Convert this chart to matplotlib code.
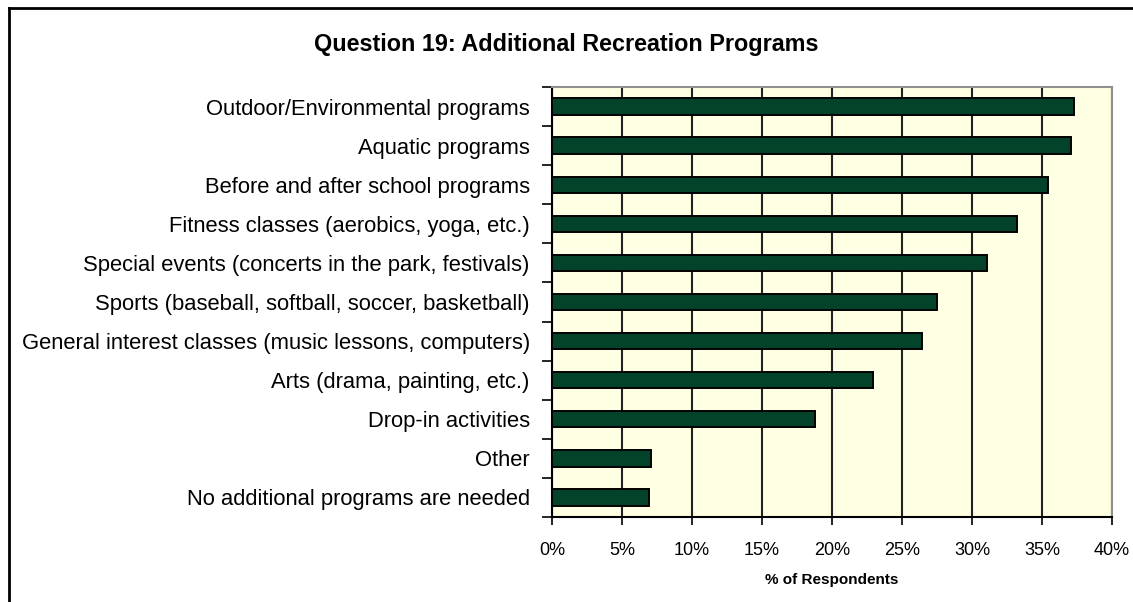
import matplotlib.pyplot as plt
import numpy as np
from matplotlib.lines import Line2D

plt.rcParams['font.family'] = ['Liberation Sans', 'DejaVu Sans']

# survey answers, top of chart first
programs = [
    "Outdoor/Environmental programs",
    "Aquatic programs",
    "Before and after school programs",
    "Fitness classes (aerobics, yoga, etc.)",
    "Special events (concerts in the park, festivals)",
    "Sports (baseball, softball, soccer, basketball)",
    "General interest classes (music lessons, computers)",
    "Arts (drama, painting, etc.)",
    "Drop-in activities",
    "Other",
    "No additional programs are needed",
]
percent = [37.3, 37.1, 35.4, 33.2, 31.1, 27.5, 26.4, 22.9, 18.8, 7.1, 6.9]
xticks = [0, 5, 10, 15, 20, 25, 30, 35, 40]

fig = plt.figure(figsize=(11.33, 6.02), dpi=100)
ax = fig.add_axes([552 / 1133, 1 - 517 / 602, 560 / 1133, 430 / 602])
ax.set_facecolor('#FFFFE3')

y = np.arange(len(programs))[::-1]
ax.barh(y, percent, height=0.42, color='#03432A', edgecolor='black',
        linewidth=1.4, zorder=3)

ax.set_xlim(0, 40)
ax.set_ylim(-0.5, len(programs) - 0.5)
ax.set_xticks(xticks)
ax.set_xticklabels([f"{t}%" for t in xticks], fontsize=13)
ax.xaxis.grid(True, color='#222222', linewidth=1.5, zorder=1)

ax.set_yticks(y)
ax.set_yticklabels(programs, fontsize=15.85)
ax.tick_params(axis='y', length=0, pad=16)
ax.set_yticks(np.arange(len(programs) + 1) - 0.5, minor=True)
ax.tick_params(axis='y', which='minor', length=7, width=1.2, direction='out')
ax.tick_params(axis='x', length=6, width=1.2, direction='out', pad=12)

for side in ['left', 'bottom']:
    ax.spines[side].set_color('black')
    ax.spines[side].set_linewidth(1.5)
for side in ['top', 'right']:
    ax.spines[side].set_color('#909090')
    ax.spines[side].set_linewidth(1.5)

ax.set_xlabel("% of Respondents", fontsize=11, fontweight='bold', labelpad=10)
fig.text(566 / 1133, 1 - 44 / 602, "Question 19: Additional Recreation Programs",
         fontsize=16.8, fontweight='bold', ha='center', va='center')

# outer chart border (left and top edges)
fig.add_artist(Line2D([8.5 / 1133, 8.5 / 1133], [0, 1 - 7.5 / 602],
                      transform=fig.transFigure, color='black', linewidth=2))
fig.add_artist(Line2D([8.5 / 1133, 1], [1 - 7.5 / 602, 1 - 7.5 / 602],
                      transform=fig.transFigure, color='black', linewidth=2))

fig.savefig('out.png', dpi=100)
